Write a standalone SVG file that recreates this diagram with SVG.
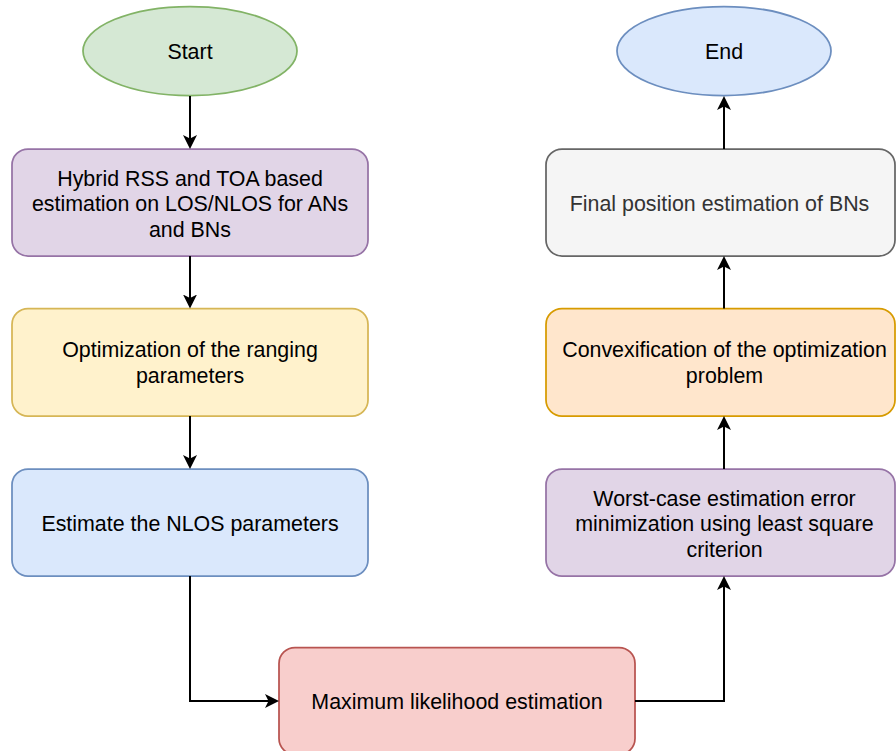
<svg xmlns="http://www.w3.org/2000/svg" width="896" height="751" viewBox="0 0 896 751">
<defs>
<marker id="arr" viewBox="0 0 14 14" refX="11" refY="7" markerWidth="14" markerHeight="14" markerUnits="userSpaceOnUse" orient="auto">
<path d="M0,0 L14,7 L0,14 L3.5,7 Z" fill="#000"/>
</marker>
<style>
text{font-family:"Liberation Sans",Arial,Helvetica,sans-serif;font-size:21.4px;fill:#000;text-anchor:middle}
.n{stroke-width:1.75}
.c{fill:none;stroke:#000;stroke-width:2;marker-end:url(#arr)}
</style>
</defs>
<rect width="896" height="751" fill="#fff"/>
<g id="start">
<ellipse class="n" cx="190" cy="51" rx="107" ry="44.5" fill="#d5e8d4" stroke="#82b366"/>
<text x="190" y="58.5">Start</text>
</g>
<g id="end">
<ellipse class="n" cx="724" cy="51" rx="107" ry="44.5" fill="#dae8fc" stroke="#6c8ebf"/>
<text x="724" y="58.5">End</text>
</g>
<g id="hybrid">
<rect class="n" x="12" y="149" width="356" height="107" rx="16" fill="#e1d5e7" stroke="#9673a6"/>
<text x="190" y="185.5">Hybrid RSS and TOA based</text>
<text x="190" y="211">estimation on LOS/NLOS for ANs</text>
<text x="190" y="236.5">and BNs</text>
</g>
<g id="optim">
<rect class="n" x="12" y="308.5" width="356" height="107.5" rx="16" fill="#fff2cc" stroke="#d6b656"/>
<text x="190" y="357">Optimization of the ranging</text>
<text x="190" y="382.5">parameters</text>
</g>
<g id="nlos">
<rect class="n" x="12" y="469" width="356" height="107" rx="16" fill="#dae8fc" stroke="#6c8ebf"/>
<text x="190" y="530.5">Estimate the NLOS parameters</text>
</g>
<g id="ml">
<rect class="n" x="279" y="647.5" width="356" height="107" rx="16" fill="#f8cecc" stroke="#b85450"/>
<text x="457" y="708.5">Maximum likelihood estimation</text>
</g>
<g id="worst">
<rect class="n" x="546" y="469" width="349" height="107" rx="16" fill="#e1d5e7" stroke="#9673a6"/>
<text x="724.5" y="505.5">Worst-case estimation error</text>
<text x="724.5" y="531">minimization using least square</text>
<text x="724.5" y="556.5">criterion</text>
</g>
<g id="convex">
<rect class="n" x="546" y="308.5" width="349" height="107.5" rx="16" fill="#ffe6cc" stroke="#d79b00"/>
<text x="724.5" y="357">Convexification of the optimization</text>
<text x="724.5" y="382.5">problem</text>
</g>
<g id="final">
<rect class="n" x="546" y="149" width="349" height="107" rx="16" fill="#f5f5f5" stroke="#666666"/>
<text x="719.5" y="210.5" style="fill:#333333">Final position estimation of BNs</text>
</g>
<g id="connectors">
<path class="c" d="M190,96 L190,146"/>
<path class="c" d="M190,256 L190,305.5"/>
<path class="c" d="M190,416 L190,466"/>
<path class="c" d="M190,576 L190,701 L276,701"/>
<path class="c" d="M635,701 L724,701 L724,579"/>
<path class="c" d="M724,469 L724,419"/>
<path class="c" d="M724,308.5 L724,259"/>
<path class="c" d="M724,149 L724,99"/>
</g>
</svg>
